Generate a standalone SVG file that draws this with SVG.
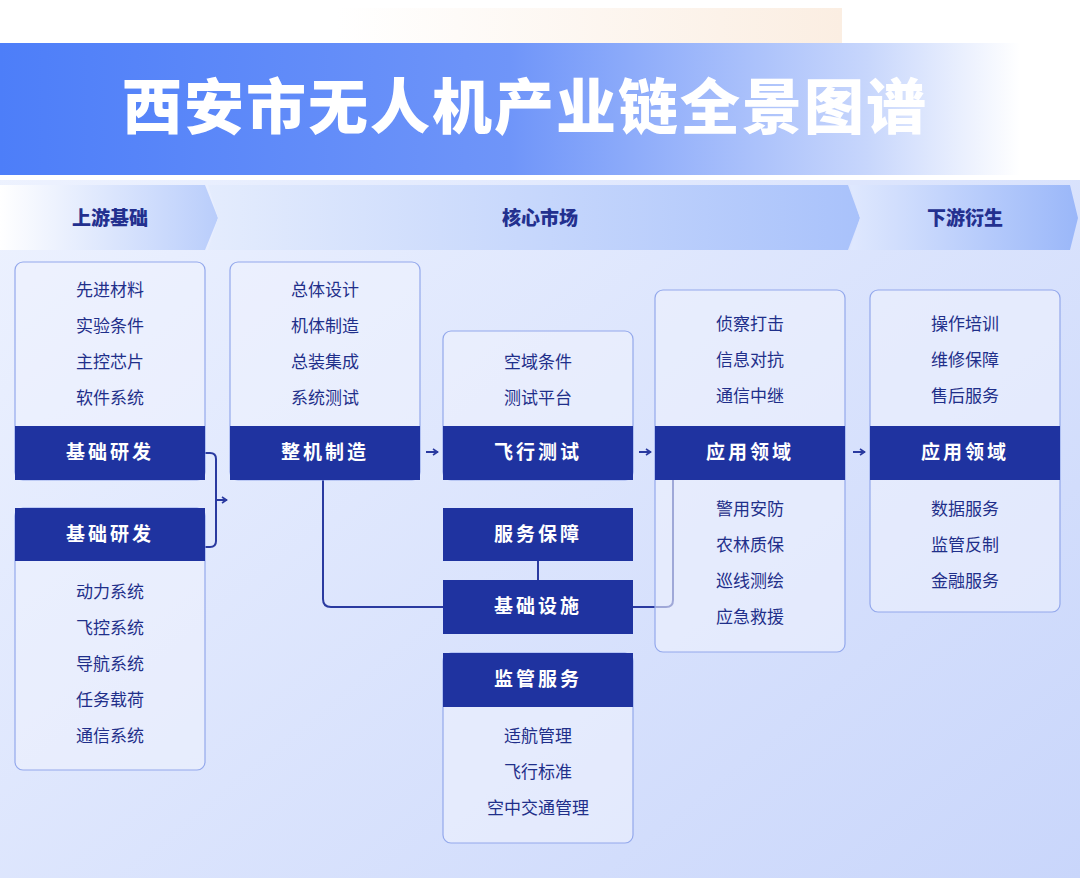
<svg xmlns="http://www.w3.org/2000/svg" width="1080" height="878" viewBox="0 0 1080 878">
<defs>
<linearGradient id="bg" x1="0" y1="0" x2="1" y2="1"><stop offset="0" stop-color="#f1f5ff"/><stop offset="1" stop-color="#c9d6fb"/></linearGradient>
<linearGradient id="ban" x1="0" y1="0" x2="1" y2="0"><stop offset="0" stop-color="#4d7ef9"/><stop offset="0.5" stop-color="#6f95f9"/><stop offset="0.85" stop-color="#c7d6fc"/><stop offset="1" stop-color="#ffffff"/></linearGradient>
<linearGradient id="top" x1="0" y1="0" x2="1" y2="0"><stop offset="0.3" stop-color="#ffffff"/><stop offset="1" stop-color="#fbeee2"/></linearGradient>
<linearGradient id="h1" x1="0" y1="0" x2="1" y2="0"><stop offset="0" stop-color="#ffffff"/><stop offset="1" stop-color="#b9cdfb"/></linearGradient>
<linearGradient id="h2" x1="0" y1="0" x2="1" y2="0"><stop offset="0" stop-color="#e4ecfd"/><stop offset="1" stop-color="#a9c2fb"/></linearGradient>
<linearGradient id="h3" x1="0" y1="0" x2="1" y2="0"><stop offset="0" stop-color="#dfe8fe"/><stop offset="1" stop-color="#9ab7f9"/></linearGradient>
<marker id="ah" markerWidth="8" markerHeight="8" refX="7" refY="4" orient="auto" markerUnits="userSpaceOnUse"><path d="M2,1 L6.5,4 L2,7" fill="none" stroke="#2a3aa0" stroke-width="1.6"/></marker>
<style>
.card{fill:#eef2fe;fill-opacity:0.6;stroke:#93a8ec;stroke-width:1.2}
.band{fill:#1f33a0}
.bt{font-family:"Noto Sans CJK SC",sans-serif;font-size:19px;font-weight:bold;fill:#fff;text-anchor:middle;letter-spacing:3px}
.it{font-family:"Noto Sans CJK SC",sans-serif;font-size:17px;fill:#1f2f8a;text-anchor:middle}
.ht{font-family:"Noto Sans CJK SC",sans-serif;font-size:19px;font-weight:900;fill:#23308f;text-anchor:middle}
.ln{fill:none;stroke:#2a3aa0;stroke-width:2}
</style>
</defs>
<rect width="1080" height="878" fill="url(#bg)"/>
<rect x="0" y="0" width="1080" height="180" fill="#ffffff"/>
<rect x="120" y="8" width="722" height="80" fill="url(#top)"/>
<rect x="0" y="43" width="1020" height="132" fill="url(#ban)"/>
<text x="525" y="129" font-family="Noto Sans CJK SC,sans-serif" font-size="60" font-weight="900" fill="#ffffff" text-anchor="middle" letter-spacing="2">西安市无人机产业链全景图谱</text>
<g id="headers">
<path d="M0,185 H205 L218,218 L205,250 H0 Z" fill="url(#h1)"/>
<path d="M208,185 H848 L860,218 L848,250 H208 L218,218 Z" fill="url(#h2)"/>
<path d="M850,185 H1070 L1078,218 L1070,250 H850 L860,218 Z" fill="url(#h3)"/>
<text class="ht" x="110" y="225">上游基础</text>
<text class="ht" x="540" y="225">核心市场</text>
<text class="ht" x="965" y="225">下游衍生</text>
</g>
<g id="connectors">
<path class="ln" d="M205,453 H210 Q216,453 216,459 V541 Q216,547 210,547 H205"/>
<path class="ln" d="M216,500 H227" marker-end="url(#ah)"/>
<path class="ln" d="M426,452 H438" marker-end="url(#ah)"/>
<path class="ln" d="M639,452 H651" marker-end="url(#ah)"/>
<path class="ln" d="M853,452 H865" marker-end="url(#ah)"/>
<path class="ln" d="M323,480 V599 Q323,607 331,607 H443"/>
<path class="ln" d="M538,561 V580"/>
<path class="ln" d="M633,607 H666 Q673,607 673,600 V480"/>
</g>
<g id="n-up1"><rect class="card" x="15" y="262" width="190" height="218" rx="8"/><rect class="band" x="15" y="426" width="190" height="54"/>
<text class="it" x="110" y="296">先进材料</text><text class="it" x="110" y="332">实验条件</text><text class="it" x="110" y="368">主控芯片</text><text class="it" x="110" y="404">软件系统</text><text class="bt" x="110" y="459">基础研发</text></g>
<g id="n-up2"><rect class="card" x="15" y="508" width="190" height="262" rx="8"/><rect class="band" x="15" y="508" width="190" height="53"/>
<text class="bt" x="110" y="541">基础研发</text><text class="it" x="110" y="598">动力系统</text><text class="it" x="110" y="634">飞控系统</text><text class="it" x="110" y="670">导航系统</text><text class="it" x="110" y="706">任务载荷</text><text class="it" x="110" y="742">通信系统</text></g>
<g id="n-make"><rect class="card" x="230" y="262" width="190" height="218" rx="8"/><rect class="band" x="230" y="426" width="190" height="54"/>
<text class="it" x="325" y="296">总体设计</text><text class="it" x="325" y="332">机体制造</text><text class="it" x="325" y="368">总装集成</text><text class="it" x="325" y="404">系统测试</text><text class="bt" x="325" y="459">整机制造</text></g>
<g id="n-fly"><rect class="card" x="443" y="331" width="190" height="149" rx="8"/><rect class="band" x="443" y="426" width="190" height="54"/>
<text class="it" x="538" y="368">空域条件</text><text class="it" x="538" y="404">测试平台</text><text class="bt" x="538" y="459">飞行测试</text></g>
<g id="n-svc"><rect class="band" x="443" y="508" width="190" height="53"/><text class="bt" x="538" y="541">服务保障</text></g>
<g id="n-infra"><rect class="band" x="443" y="580" width="190" height="54"/><text class="bt" x="538" y="613">基础设施</text></g>
<g id="n-reg"><rect class="card" x="443" y="653" width="190" height="190" rx="8"/><rect class="band" x="443" y="653" width="190" height="54"/>
<text class="bt" x="538" y="686">监管服务</text><text class="it" x="538" y="742">适航管理</text><text class="it" x="538" y="778">飞行标准</text><text class="it" x="538" y="814">空中交通管理</text></g>
<g id="n-app"><rect class="card" x="655" y="290" width="190" height="362" rx="8"/><rect class="band" x="655" y="426" width="190" height="54"/>
<text class="it" x="750" y="330">侦察打击</text><text class="it" x="750" y="366">信息对抗</text><text class="it" x="750" y="402">通信中继</text><text class="bt" x="750" y="459">应用领域</text>
<text class="it" x="750" y="515">警用安防</text><text class="it" x="750" y="551">农林质保</text><text class="it" x="750" y="587">巡线测绘</text><text class="it" x="750" y="623">应急救援</text></g>
<g id="n-down"><rect class="card" x="870" y="290" width="190" height="322" rx="8"/><rect class="band" x="870" y="426" width="190" height="54"/>
<text class="it" x="965" y="330">操作培训</text><text class="it" x="965" y="366">维修保障</text><text class="it" x="965" y="402">售后服务</text><text class="bt" x="965" y="459">应用领域</text>
<text class="it" x="965" y="515">数据服务</text><text class="it" x="965" y="551">监管反制</text><text class="it" x="965" y="587">金融服务</text></g>
</svg>
